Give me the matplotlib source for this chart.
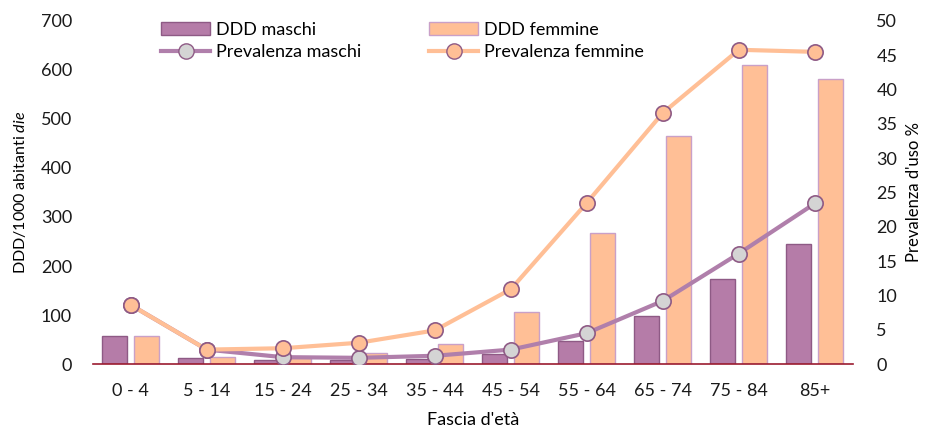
import matplotlib
matplotlib.use("Agg")
import matplotlib.pyplot as plt
import numpy as np
from matplotlib.lines import Line2D
from matplotlib.patches import Patch

categories = ["0 - 4", "5 - 14", "15 - 24", "25 - 34", "35 - 44", "45 - 54",
              "55 - 64", "65 - 74", "75 - 84", "85+"]
ddd_maschi = [58, 12, 8, 8, 10, 20, 46, 98, 173, 245]
ddd_femmine = [57, 14, 13, 22, 41, 107, 267, 465, 610, 582]
prev_maschi = [8.6, 2.1, 1.0, 0.9, 1.2, 2.1, 4.5, 9.2, 16.1, 23.4]
prev_femmine = [8.6, 2.1, 2.3, 3.1, 4.9, 10.9, 23.5, 36.6, 45.8, 45.5]

plt.rcParams['font.family'] = ['Lato', 'DejaVu Sans']
plt.rcParams['mathtext.fontset'] = 'custom'
plt.rcParams['mathtext.rm'] = 'Lato'
plt.rcParams['mathtext.it'] = 'Lato:italic'

c_m_bar = "#b57ca8"
c_m_edge = "#8e5a85"
c_f_bar = "#ffbf96"
c_f_edge = "#c9a0c8"
c_m_line = "#b07fab"
c_f_line = "#ffbf96"
c_gray = "#d4d4d4"
fs = 13

fig = plt.figure(figsize=(9.28, 4.28), dpi=100)
ax = fig.add_axes([0.100, 0.1495, 0.819, 0.8015])
x = np.arange(len(categories))
w = 0.33
off = 0.21
ax.bar(x - off, ddd_maschi, w, color=c_m_bar, edgecolor=c_m_edge, linewidth=1, zorder=2)
ax.bar(x + off, ddd_femmine, w, color=c_f_bar, edgecolor=c_f_edge, linewidth=1, zorder=2)
ax.set_xlim(-0.5, len(categories) - 0.5)
ax.set_ylim(0, 700)
ax.set_yticks(np.arange(0, 701, 100))
ax.set_xticks(x)
ax.set_xticklabels(categories)
for s in ["top", "right", "left"]:
    ax.spines[s].set_visible(False)
ax.spines["bottom"].set_color("#9b1b30")
ax.spines["bottom"].set_linewidth(1.2)
ax.tick_params(axis="both", length=0, labelsize=fs, colors="#1a1a1a")
ax.tick_params(axis="x", pad=14)
ax.tick_params(axis="y", pad=15)
ax.set_xlabel("Fascia d'età", fontsize=fs, labelpad=9)
ax.set_ylabel("DDD/1000 abitanti $\\it{die}$", fontsize=11.5, labelpad=9)

ax2 = ax.twinx()
ax2.plot(x, prev_maschi, color=c_m_line, lw=3, marker="o", ms=11,
         mfc=c_gray, mec=c_m_edge, mew=1.2, zorder=3)
ax2.plot(x, prev_femmine, color=c_f_line, lw=3, marker="o", ms=11,
         mfc=c_f_bar, mec=c_m_edge, mew=1.2, zorder=4)
ax2.set_ylim(0, 50)
ax2.set_yticks(np.arange(0, 51, 5))
for s in ["top", "right", "left", "bottom"]:
    ax2.spines[s].set_visible(False)
ax2.tick_params(axis="y", length=0, labelsize=fs, colors="#1a1a1a", pad=17)
ax2.set_ylabel("Prevalenza d'uso %", fontsize=12, labelpad=6)

handles = [
    Patch(facecolor=c_m_bar, edgecolor=c_m_edge),
    Line2D([0], [0], color=c_m_line, lw=3, marker="o", ms=11, mfc=c_gray, mec=c_m_edge),
    Patch(facecolor=c_f_bar, edgecolor=c_f_edge),
    Line2D([0], [0], color=c_f_line, lw=3, marker="o", ms=11, mfc=c_f_bar, mec=c_m_edge),
]
labels = ["DDD maschi", "Prevalenza maschi", "DDD femmine", "Prevalenza femmine"]
fig.legend(handles, labels, ncol=2, loc="upper left", bbox_to_anchor=(0.170, 0.957),
           frameon=False, fontsize=13, handlelength=2.7, handleheight=0.7,
           handletextpad=0.3, columnspacing=3.8, labelspacing=0.35, borderaxespad=0.0,
           borderpad=0.2)

fig.savefig("out.png", dpi=100)
